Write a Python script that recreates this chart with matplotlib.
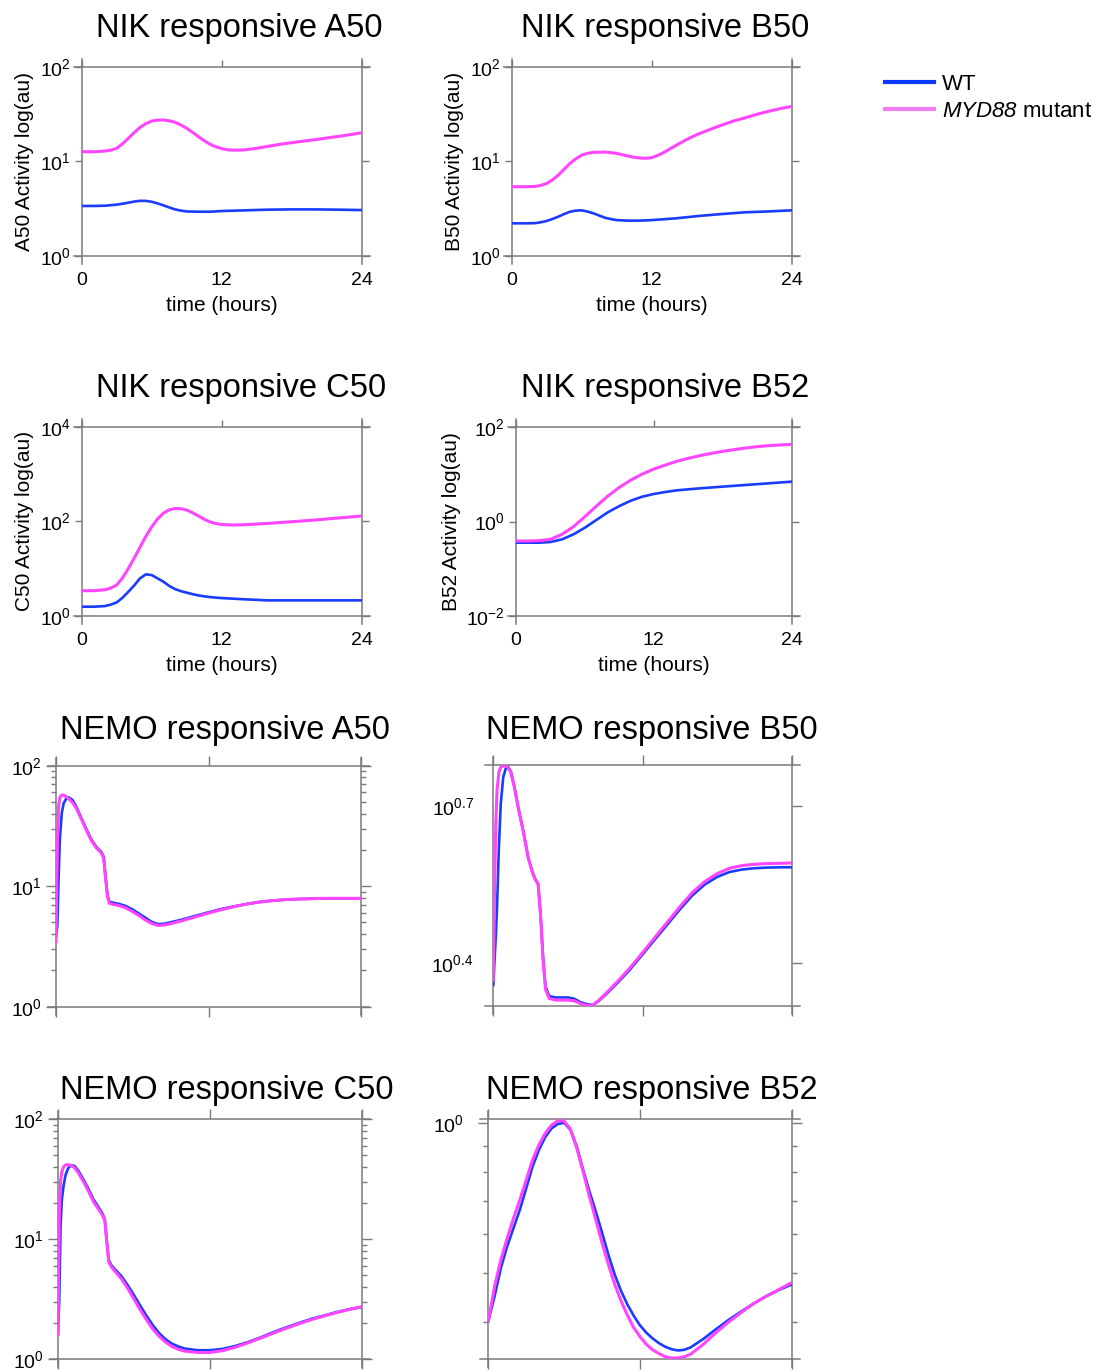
import numpy as np
import matplotlib.pyplot as plt
from matplotlib.lines import Line2D
from matplotlib.ticker import (FixedLocator, FixedFormatter, NullLocator,
                               NullFormatter, LogLocator)

plt.rcParams['font.family'] = 'Liberation Sans'
plt.rcParams['mathtext.fontset'] = 'custom'
plt.rcParams['mathtext.rm'] = 'Liberation Sans'
plt.rcParams['mathtext.it'] = 'Liberation Sans:italic'
plt.rcParams['mathtext.sf'] = 'Liberation Sans:italic'  # italic digits for the gene name
plt.rcParams['mathtext.bf'] = 'Liberation Sans:bold'

WT_COLOR = '#1a3cff'
MUT_COLOR = '#ff45ff'
FRAME = '#7a7a7a'

# ---- NIK responsive dimers (time in hours) ----
t_a50_mut = [0, 1, 2, 2.5, 3, 3.5, 4, 4.5, 5, 5.5, 6, 6.5, 7, 7.5, 8, 8.5, 9, 9.5, 10, 10.5,
             11, 11.5, 12, 12.5, 13, 13.5, 14, 15, 16, 17, 18, 19, 20, 21, 22, 23, 24]
nik_a50_mut = [12.6, 12.6, 12.8, 13.1, 13.7, 15.3, 17.5, 20.1, 22.8, 25.0, 26.6, 27.2, 27.3,
               26.8, 25.8, 24.2, 22.3, 20.2, 18.2, 16.5, 15.1, 14.2, 13.6, 13.2, 13.1, 13.1,
               13.2, 13.7, 14.4, 15.1, 15.7, 16.3, 16.9, 17.6, 18.3, 19.1, 20.0]
t_a50_wt = [0, 1, 2, 3, 3.5, 4, 4.5, 5, 5.5, 6, 6.5, 7, 7.5, 8, 8.5, 9, 10, 11, 12, 14, 16,
            18, 20, 22, 24]
nik_a50_wt = [3.36, 3.36, 3.38, 3.47, 3.55, 3.64, 3.74, 3.81, 3.80, 3.72, 3.58, 3.41, 3.24,
              3.09, 3.00, 2.94, 2.92, 2.92, 2.97, 3.02, 3.07, 3.09, 3.09, 3.07, 3.04]

t_b50_mut = [0, 1, 2, 2.5, 3, 3.5, 4, 4.5, 5, 5.5, 6, 6.5, 7, 8, 9, 10, 10.5, 11, 11.5, 12,
             12.5, 13, 14, 15, 16, 17, 18, 19, 20, 21, 22, 23, 24]
nik_b50_mut = [5.37, 5.37, 5.4, 5.55, 5.82, 6.35, 7.14, 8.25, 9.49, 10.6, 11.6, 12.1, 12.4,
               12.5, 12.1, 11.3, 11.0, 10.8, 10.75, 10.9, 11.5, 12.3, 14.5, 17.0, 19.4, 21.7,
               24.1, 26.6, 28.8, 31.3, 33.7, 36.0, 38.0]
t_b50_wt = [0, 1, 2, 2.5, 3, 3.5, 4, 4.5, 5, 5.5, 6, 6.5, 7, 7.5, 8, 8.5, 9, 10, 11, 12, 14,
            16, 18, 20, 22, 24]
nik_b50_wt = [2.20, 2.20, 2.21, 2.26, 2.33, 2.45, 2.59, 2.76, 2.92, 3.00, 3.02, 2.93, 2.81,
              2.66, 2.52, 2.44, 2.38, 2.35, 2.35, 2.38, 2.48, 2.63, 2.76, 2.88, 2.94, 3.02]

t_c50 = [0, 1, 2, 2.5, 3, 3.5, 4, 4.5, 5, 5.5, 6, 6.5, 7, 7.5, 8, 8.5, 9, 9.5, 10, 10.5, 11,
         11.5, 12, 13, 14, 16, 18, 20, 22, 24]
nik_c50_mut = [3.38, 3.38, 3.55, 3.85, 4.46, 6.31, 10.0, 16.6, 28.2, 47.9, 75.9, 112, 148,
               174, 186, 184, 172, 151, 129, 110, 96.6, 89.1, 85.1, 83.0, 84.4, 90, 97.5, 106,
               117, 129]
nik_c50_wt = [1.55, 1.55, 1.60, 1.72, 1.91, 2.40, 3.22, 4.37, 6.17, 7.50, 7.24, 6.17, 5.25,
              4.27, 3.66, 3.31, 3.07, 2.86, 2.69, 2.57, 2.48, 2.41, 2.36, 2.29, 2.22, 2.11,
              2.11, 2.11, 2.11, 2.11]

t_b52_mut = list(range(25))
nik_b52_mut = [0.385, 0.385, 0.392, 0.418, 0.533, 0.776, 1.27, 2.13, 3.48, 5.32, 7.6, 10.2,
               13.0, 15.8, 19.0, 22.0, 25.0, 28.0, 30.9, 33.6, 36.4, 38.8, 40.8, 42.2, 43.5]
t_b52_wt = [0, 1, 2, 3, 4, 5, 6, 7, 8, 9, 10, 11, 12, 13, 14, 16, 18, 20, 22, 24]
nik_b52_wt = [0.355, 0.355, 0.355, 0.367, 0.418, 0.533, 0.740, 1.08, 1.57, 2.13, 2.77, 3.37,
              3.84, 4.23, 4.59, 5.06, 5.50, 5.96, 6.47, 7.01]

# ---- NEMO responsive dimers ----
t_nemo_a50 = [0, 0.1, 0.2, 0.3, 0.45, 0.6, 0.8, 1.0, 1.3, 1.6, 2.0, 2.4, 2.8, 3.2, 3.55, 3.75,
              3.9, 4.05, 4.2, 4.5, 5, 5.5, 6, 6.5, 7, 7.5, 8, 8.5, 9, 10, 11, 12, 13, 14, 15,
              16, 17, 18, 19, 20, 21, 22, 23, 24]
nemo_a50_wt = [3.81, 4.61, 11.2, 24.2, 40.2, 48.7, 53.2, 54.6, 51.9, 45.7, 36.6, 29.6, 24.2,
               21.0, 19.3, 17.6, 12.0, 8.45, 7.43, 7.29, 7.11, 6.84, 6.43, 5.95, 5.51, 5.07,
               4.85, 4.88, 5.01, 5.31, 5.69, 6.07, 6.47, 6.80, 7.11, 7.39, 7.58, 7.73, 7.82,
               7.87, 7.93, 7.93, 7.93, 7.93]
nemo_a50_mut = [3.46, 20.0, 45.7, 54.6, 57.1, 57.1, 55.3, 53.2, 49.3, 44.3, 35.9, 28.9, 23.7,
                20.6, 19.0, 17.0, 11.6, 8.18, 7.21, 7.06, 6.89, 6.59, 6.18, 5.73, 5.27, 4.92,
                4.73, 4.76, 4.88, 5.20, 5.58, 5.98, 6.38, 6.76, 7.11, 7.39, 7.58, 7.73, 7.82,
                7.87, 7.93, 7.93, 7.93, 7.93]

t_nemo_b50 = [0, 0.1, 0.2, 0.3, 0.45, 0.6, 0.8, 1.0, 1.15, 1.4, 1.7, 2.0, 2.4, 2.8, 3.1, 3.35,
              3.6, 3.8, 4.0, 4.2, 4.5, 5, 5.5, 6, 6.5, 7, 7.5, 8, 8.5, 9, 10, 11, 12, 13, 14,
              15, 16, 17, 18, 19, 20, 21, 22, 23, 24]
nemo_b50_wt = [2.285, 2.549, 2.823, 3.220, 4.188, 5.064, 5.690, 5.902, 5.963, 5.842, 5.447,
               4.989, 4.506, 4.009, 3.781, 3.645, 3.566, 3.127, 2.587, 2.268, 2.177, 2.164,
               2.164, 2.164, 2.152, 2.120, 2.102, 2.093, 2.133, 2.187, 2.308, 2.447, 2.613,
               2.791, 2.980, 3.183, 3.384, 3.550, 3.671, 3.752, 3.792, 3.814, 3.825, 3.830,
               3.830]
nemo_b50_mut = [2.335, 3.463, 4.640, 5.368, 5.817, 5.945, 5.980, 5.980, 5.945, 5.817, 5.431,
                4.974, 4.493, 3.997, 3.770, 3.635, 3.556, 3.105, 2.549, 2.242, 2.155, 2.139,
                2.139, 2.139, 2.133, 2.108, 2.090, 2.093, 2.139, 2.196, 2.322, 2.465, 2.633,
                2.816, 3.011, 3.220, 3.428, 3.597, 3.725, 3.814, 3.859, 3.881, 3.893, 3.897,
                3.903]

t_nemo_c50 = [0, 0.1, 0.2, 0.3, 0.45, 0.6, 0.8, 1.0, 1.3, 1.6, 2.0, 2.4, 2.8, 3.2, 3.5, 3.7,
              3.85, 4.0, 4.2, 4.5, 5, 5.5, 6, 6.5, 7, 7.5, 8, 8.5, 9, 9.5, 10, 11, 12, 13, 14,
              15, 16, 17, 18, 19, 20, 21, 22, 23, 24]
nemo_c50_wt = [1.65, 3.12, 12.8, 21.3, 28.4, 34.4, 39.0, 41.4, 40.9, 37.4, 31.6, 26.4, 21.5,
               18.5, 16.5, 14.7, 9.87, 6.81, 6.11, 5.62, 4.95, 4.16, 3.43, 2.80, 2.30, 1.92,
               1.65, 1.47, 1.35, 1.28, 1.23, 1.19, 1.19, 1.22, 1.29, 1.39, 1.52, 1.68, 1.84,
               2.00, 2.17, 2.31, 2.47, 2.61, 2.72]
nemo_c50_mut = [1.60, 15.5, 30.3, 36.6, 40.3, 41.6, 41.9, 41.2, 39.6, 35.9, 30.4, 25.3, 20.6,
                17.8, 16.0, 14.3, 9.57, 6.52, 5.92, 5.41, 4.70, 3.91, 3.18, 2.58, 2.13, 1.78,
                1.55, 1.39, 1.28, 1.21, 1.17, 1.14, 1.14, 1.18, 1.26, 1.37, 1.50, 1.65, 1.81,
                1.97, 2.14, 2.29, 2.45, 2.60, 2.75]

t_nemo_b52 = [0, 0.5, 1, 1.5, 2, 2.5, 3, 3.5, 4, 4.5, 5, 5.5, 6, 6.5, 7, 7.5, 8, 8.5, 9, 9.5,
              10, 10.5, 11, 11.5, 12, 12.5, 13, 13.5, 14, 14.5, 15, 15.5, 16, 17, 18, 19, 20,
              21, 22, 23, 24]
nemo_b52_wt = [0.401, 0.450, 0.513, 0.567, 0.617, 0.671, 0.741, 0.819, 0.884, 0.938, 0.977,
               0.997, 1.003, 0.970, 0.898, 0.807, 0.730, 0.666, 0.603, 0.545, 0.497, 0.461,
               0.433, 0.411, 0.393, 0.380, 0.370, 0.362, 0.356, 0.352, 0.350, 0.351, 0.355,
               0.369, 0.386, 0.403, 0.419, 0.435, 0.450, 0.463, 0.475]
nemo_b52_mut = [0.401, 0.471, 0.533, 0.589, 0.646, 0.703, 0.770, 0.845, 0.905, 0.955, 0.992,
                1.012, 1.011, 0.973, 0.891, 0.800, 0.713, 0.641, 0.575, 0.521, 0.475, 0.440,
                0.412, 0.389, 0.373, 0.360, 0.351, 0.345, 0.340, 0.338, 0.338, 0.340, 0.344,
                0.360, 0.380, 0.399, 0.417, 0.435, 0.450, 0.464, 0.479]

W, H = 1103, 1370
fig = plt.figure(figsize=(W / 100, H / 100), dpi=100)


def add_panel(l, t, r, b):
    ax = fig.add_axes([l / W, 1 - b / H, (r - l) / W, (b - t) / H])
    for s in ax.spines.values():
        s.set_visible(False)
    # frame lines run a little past the corners
    ex, ey = 8 / (r - l), 8 / (b - t)
    kw = dict(transform=ax.transAxes, clip_on=False, color=FRAME, lw=1.1, zorder=1.5)
    ax.plot([-ex, 1 + ex], [1, 1], **kw)
    ax.plot([-ex, 1 + ex], [0, 0], **kw)
    ax.plot([0, 0], [-ey, 1 + ey], **kw)
    ax.plot([1, 1], [-ey, 1 + ey], **kw)
    ax.set_yscale('log')
    ax.set_xlim(0, 24)
    ax.set_xticks([0, 12, 24])
    return ax


def draw(ax, tw, wt, tm, mut):
    ax.plot(tw, wt, color=WT_COLOR, lw=1.9, zorder=2)
    ax.plot(tm, mut, color=MUT_COLOR, lw=2.2, zorder=2.1)


def nik_style(ax, ylab, lo, hi, majors):
    ax.set_ylim(lo, hi)
    ax.yaxis.set_major_locator(FixedLocator(majors))
    ax.yaxis.set_minor_locator(NullLocator())
    ax.tick_params(axis='both', which='major', direction='out', color=FRAME,
                   length=5, width=1, labelsize=14, top=True, right=True)
    ax.tick_params(axis='x', bottom=False, pad=6.5)
    ax.tick_params(axis='y', pad=3)
    ax.set_xticklabels(['0', '12', '24'])
    ax.set_xlabel('time (hours)', fontsize=15, labelpad=5)
    ax.set_ylabel(ylab, fontsize=15, labelpad=4)


def nemo_style(ax, lo, hi):
    ax.set_ylim(lo, hi)
    ax.tick_params(axis='both', which='major', direction='out', color=FRAME,
                   length=7, width=1, labelsize=14, top=True, right=True,
                   labelbottom=False)
    ax.tick_params(axis='y', which='minor', direction='out', color=FRAME,
                   length=3.5, width=1, left=True, right=True)
    ax.tick_params(axis='y', pad=3)


# NIK responsive A50
ax = add_panel(81.7, 66.7, 361.7, 255.7)
draw(ax, t_a50_wt, nik_a50_wt, t_a50_mut, nik_a50_mut)
nik_style(ax, 'A50 Activity log(au)', 1, 100, [1, 10, 100])

# NIK responsive B50
ax = add_panel(511.7, 66.7, 791.7, 255.7)
draw(ax, t_b50_wt, nik_b50_wt, t_b50_mut, nik_b50_mut)
nik_style(ax, 'B50 Activity log(au)', 1, 100, [1, 10, 100])

# NIK responsive C50
ax = add_panel(81.7, 426.7, 361.7, 615.7)
draw(ax, t_c50, nik_c50_wt, t_c50, nik_c50_mut)
nik_style(ax, 'C50 Activity log(au)', 1, 1e4, [1, 100, 1e4])

# NIK responsive B52
ax = add_panel(516, 427.3, 791.7, 615.7)
draw(ax, t_b52_wt, nik_b52_wt, t_b52_mut, nik_b52_mut)
nik_style(ax, 'B52 Activity log(au)', 1e-2, 1e2, [1e-2, 1, 1e2])

# NEMO responsive A50
ax = add_panel(56, 765.7, 361, 1006.7)
draw(ax, t_nemo_a50, nemo_a50_wt, t_nemo_a50, nemo_a50_mut)
nemo_style(ax, 1, 100)
ax.yaxis.set_major_locator(FixedLocator([1, 10, 100]))
ax.yaxis.set_minor_locator(LogLocator(subs=np.arange(2, 10)))
ax.yaxis.set_minor_formatter(NullFormatter())

# NEMO responsive B50
ax = add_panel(493.3, 765, 791.7, 1006)
draw(ax, t_nemo_b50, nemo_b50_wt, t_nemo_b50, nemo_b50_mut)
nemo_style(ax, 10 ** 0.319, 10 ** 0.778)
ax.yaxis.set_major_locator(FixedLocator([10 ** 0.4, 10 ** 0.7]))
ax.yaxis.set_major_formatter(FixedFormatter([r'$\mathdefault{10^{0.4}}$',
                                             r'$\mathdefault{10^{0.7}}$']))
ax.yaxis.set_minor_locator(NullLocator())
ax.tick_params(axis='y', pad=7)
for tk in ax.yaxis.get_major_ticks():
    tk.tick1line.set_visible(False)

# NEMO responsive C50
ax = add_panel(58, 1119.3, 361.7, 1359.3)
draw(ax, t_nemo_c50, nemo_c50_wt, t_nemo_c50, nemo_c50_mut)
nemo_style(ax, 1, 100)
ax.yaxis.set_major_locator(FixedLocator([1, 10, 100]))
ax.yaxis.set_minor_locator(LogLocator(subs=np.arange(2, 10)))
ax.yaxis.set_minor_formatter(NullFormatter())

# NEMO responsive B52
ax = add_panel(488.3, 1119.3, 791.7, 1359.3)
draw(ax, t_nemo_b52, nemo_b52_wt, t_nemo_b52, nemo_b52_mut)
nemo_style(ax, 0.336, 1.019)
ax.yaxis.set_major_locator(FixedLocator([1]))
ax.yaxis.set_minor_locator(LogLocator(subs=np.arange(2, 10)))
ax.yaxis.set_minor_formatter(NullFormatter())
ax.tick_params(axis='y', which='major', pad=10.5)

titles = [('NIK responsive A50', 239.5, 37), ('NIK responsive B50', 665, 37),
          ('NIK responsive C50', 241, 397), ('NIK responsive B52', 665, 397),
          ('NEMO responsive A50', 224.5, 739), ('NEMO responsive B50', 652, 739),
          ('NEMO responsive C50', 226.5, 1099), ('NEMO responsive B52', 652, 1099)]
for s, x, y in titles:
    fig.text(x / W, 1 - y / H, s, ha='center', va='baseline', fontsize=23.5)

handles = [Line2D([], [], color='#0a3aff', lw=3),
           Line2D([], [], color='#f07ef0', lw=3)]
fig.legend(handles, ['WT', r'$\mathsf{MYD88}$ mutant'], loc='upper left',
           bbox_to_anchor=(885 / W, 1 - 74 / H), frameon=False, fontsize=16,
           handlelength=2.2, handletextpad=0.35, borderpad=0, borderaxespad=0,
           labelspacing=0.25)

fig.savefig('out.png', dpi=100)
